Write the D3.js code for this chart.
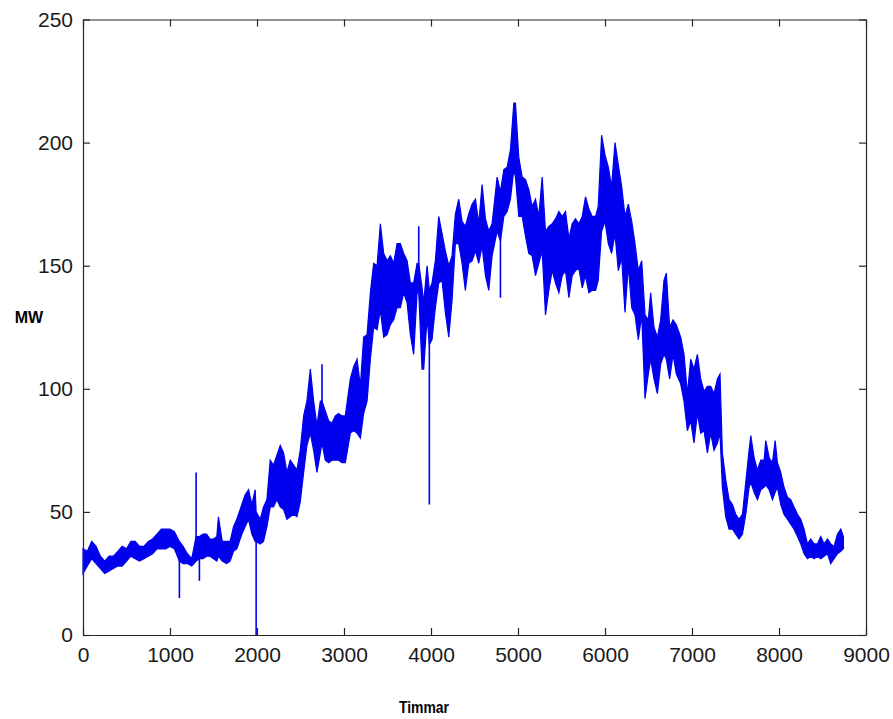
<!DOCTYPE html>
<html lang="sv">
<head>
<meta charset="UTF-8" />
<title>MW per timme</title>
<script src="https://d3js.org/d3.v7.min.js"></script>
<style>
  body { margin: 0; background: #fff; }
  svg { display: block; }
  .tick text { font-family: "Liberation Sans", Arial, sans-serif; font-size: 21px; fill: #1a1a1a; }
  .tick line, .domain { stroke: #262626; stroke-width: 1.2; }
  .axis-label { font-family: "Liberation Sans", Arial, sans-serif; font-weight: bold; fill: #000; }
</style>
</head>
<body>
<svg width="893" height="719"></svg>
<script>
// band readings: hour, upper and lower edge of the trace (MW)
const hours = [
  0,50,100,150,200,250,300,350,400,450,500,550,600,650,700,750,800,850,900,950,1000,1050,1108,1150,1200,1250,1300,1338,1380,1420,1460,1500,
  1538,1557,1600,1650,1691,1730,1768,1826,1864,1903,1941,1979,1990,2037,2075,2114,2152,2190,2229,2267,2306,2344,2382,2421,2459,2497,2536,2574,2613,2651,2689,2728,2747,2785,2823,2862,2900,2938,2977,
  3015,3073,3111,3150,3188,3226,3265,3303,3341,3380,3418,3456,3495,3533,3571,3610,3648,3686,3725,3763,3801,3840,3859,3897,3916,3955,3981,4012,4050,4089,4127,4165,4204,4242,4280,4319,4357,4395,
  4434,4472,4511,4549,4587,4626,4664,4702,4760,4798,4837,4875,4913,4952,4971,5009,5048,5086,5124,5163,5201,5239,5278,5316,5354,5393,5431,5470,5508,5546,5585,5623,5661,5700,5738,5776,5815,5853,5892,5922,
  5961,6000,6038,6076,6115,6153,6192,6230,6268,6307,6345,6383,6422,6460,6498,6525,6563,6602,6640,6678,6705,6743,6782,6820,6870,6908,6947,6985,7023,7062,7100,7138,7177,7215,7253,7292,7322,7349,7388,7426,
  7465,7503,7541,7580,7618,7656,7676,7714,7752,7791,7829,7848,7887,7925,7956,7982,8020,8058,8097,8135,8173,8212,8250,8288,8327,8365,8403,8442,8480,8518,8557,8595,8633,8672,8710,8740
];
const high = [
  35,34,38,36,32,30,32,32,34,36,35,38,38,36,36,38,39,41,43,43,43,42,38,36,33,31,40,40,41,41,39,39,
  40,48,38,38,38,44,47,53,57,59,53,59,50,47,52,55,71,69,73,77,74,66,71,69,67,75,89,95,108,95,85,95,95,91,87,86,89,90,89,
  89,104,109,112,101,121,122,139,151,150,167,155,152,154,151,159,159,155,152,143,143,151,151,141,135,150,140,143,152,170,163,156,150,154,171,177,168,166,
  171,175,177,167,183,169,164,167,186,180,189,190,197,216,216,194,186,185,181,174,177,170,186,164,166,167,169,172,170,172,161,167,169,167,170,178,173,170,170,174,
  203,195,190,182,200,191,182,170,175,168,159,148,152,130,128,139,125,121,128,144,147,125,128,126,121,114,98,112,108,114,104,99,101,101,98,104,106,74,63,55,
  53,49,47,49,62,75,81,72,67,71,71,79,72,70,79,70,66,60,56,55,52,49,47,43,37,39,37,37,40,37,39,37,36,41,43,40
];
const low = [
  25,28,31,29,27,25,26,27,28,28,30,32,31,30,31,32,33,35,35,35,36,35,30,29,29,28,30,31,31,32,32,31,
  30,32,30,29,30,34,35,41,44,47,41,38,38,37,38,44,52,52,55,52,51,47,48,49,48,54,66,77,82,75,66,74,78,71,70,71,71,71,70,
  70,82,83,82,80,90,95,112,125,124,132,121,122,126,128,133,133,139,135,122,114,139,139,108,108,129,118,120,133,143,144,131,121,136,159,159,151,140,
  151,152,156,151,158,146,140,154,164,160,170,172,177,189,186,170,170,162,155,154,146,151,156,130,140,148,143,139,146,148,137,146,148,149,141,146,139,140,140,144,
  164,168,159,155,163,148,153,131,150,133,130,120,130,96,106,112,104,98,110,114,112,104,114,106,102,95,83,87,78,90,82,83,74,82,75,78,82,60,48,43,
  43,41,39,41,49,60,62,58,55,59,60,61,59,55,58,60,53,49,47,45,43,40,37,33,31,32,31,32,31,32,33,29,31,33,34,35
];

// single-hour needles sticking out of the band
const spikeHours = [1108, 1300, 1338, 1990, 2747, 3859, 3981, 4798];
const spikeBase = [33, 35, 32, 45, 85, 145, 130, 170];
const spikeTip = [15, 66, 22, 0, 110, 166, 53, 137];

const xTicks = [0, 1000, 2000, 3000, 4000, 5000, 6000, 7000, 8000, 9000];
const yTicks = [0, 50, 100, 150, 200, 250];

const margin = { left: 83, right: 866, top: 19.5, bottom: 635 };
const lineColor = "#0000ee";

const svg = d3.select("svg");

const x = d3.scaleLinear().domain([0, 9000]).range([margin.left, margin.right]);
const y = d3.scaleLinear().domain([0, 250]).range([margin.bottom, margin.top]);

const band = hours.map((h, i) => ({ h, hi: high[i], lo: low[i] }));

// trace band
const area = d3.area()
  .x((d) => x(d.h))
  .y0((d) => y(d.lo))
  .y1((d) => y(d.hi));

svg.append("path")
  .datum(band)
  .attr("d", area)
  .attr("fill", lineColor)
  .attr("stroke", lineColor)
  .attr("stroke-width", 1.2)
  .attr("stroke-linejoin", "miter");

// needles
svg.append("g")
  .selectAll("line")
  .data(spikeHours)
  .enter()
  .append("line")
  .attr("x1", (d) => x(d))
  .attr("x2", (d) => x(d))
  .attr("y1", (d, i) => y(spikeBase[i]))
  .attr("y2", (d, i) => y(spikeTip[i]))
  .attr("stroke", lineColor)
  .attr("stroke-width", 1.6);

// axes, ticks pointing inwards like the original
svg.append("g")
  .attr("transform", `translate(0,${margin.bottom})`)
  .call(d3.axisBottom(x).tickValues(xTicks).tickSizeInner(-7).tickSizeOuter(0).tickPadding(12).tickFormat(d3.format("d")));

svg.append("g")
  .attr("transform", `translate(0,${margin.top})`)
  .call(d3.axisTop(x).tickValues(xTicks).tickSizeInner(-7).tickSizeOuter(0).tickFormat(""));

svg.append("g")
  .attr("transform", `translate(${margin.left},0)`)
  .call(d3.axisLeft(y).tickValues(yTicks).tickSizeInner(-7).tickSizeOuter(0).tickPadding(10).tickFormat(d3.format("d")));

svg.append("g")
  .attr("transform", `translate(${margin.right},0)`)
  .call(d3.axisRight(y).tickValues(yTicks).tickSizeInner(-7).tickSizeOuter(0).tickFormat(""));

// axis titles
svg.append("text")
  .attr("class", "axis-label")
  .attr("x", 29)
  .attr("y", 323)
  .attr("text-anchor", "middle")
  .style("font-size", "16px")
  .text("MW");

svg.append("text")
  .attr("class", "axis-label")
  .attr("x", 399)
  .attr("y", 713)
  .attr("textLength", 50)
  .attr("lengthAdjust", "spacingAndGlyphs")
  .style("font-size", "17px")
  .text("Timmar");
</script>
</body>
</html>
